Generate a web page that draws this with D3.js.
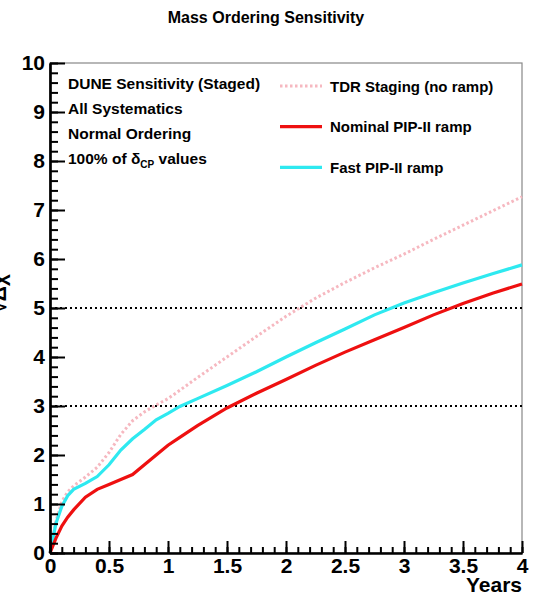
<!DOCTYPE html>
<html>
  <head>
    <meta charset="utf-8">
    <title>Mass Ordering Sensitivity</title>
    <style>
      body { margin: 0; background: #fff; }
      text { font-family: "Liberation Sans", Arial, sans-serif; font-weight: bold; }
    </style>
  </head>
  <body>
    <script src="https://cdn.jsdelivr.net/npm/d3@7"></script>
    <script type="text/javascript">
      // values
      var years   = [0, 0.05, 0.1, 0.15, 0.2, 0.3, 0.4, 0.5, 0.6, 0.7, 0.8, 0.9, 1.0, 1.1, 1.25, 1.5, 1.75, 2, 2.25, 2.5, 2.75, 3, 3.25, 3.5, 3.75, 4];
      var tdr     = [0, 0.65, 1.05, 1.25, 1.37, 1.55, 1.75, 2.05, 2.42, 2.7, 2.88, 3.02, 3.15, 3.32, 3.58, 4.0, 4.42, 4.83, 5.2, 5.52, 5.82, 6.1, 6.4, 6.69, 6.98, 7.27];
      var nominal = [0, 0.3, 0.55, 0.73, 0.88, 1.14, 1.3, 1.4, 1.5, 1.6, 1.8, 2.0, 2.2, 2.36, 2.6, 2.96, 3.26, 3.54, 3.83, 4.1, 4.35, 4.6, 4.86, 5.09, 5.3, 5.49];
      var fast    = [0, 0.6, 0.95, 1.17, 1.3, 1.42, 1.56, 1.8, 2.1, 2.33, 2.52, 2.72, 2.85, 2.99, 3.15, 3.42, 3.7, 4.0, 4.29, 4.57, 4.86, 5.1, 5.31, 5.51, 5.7, 5.88];
      var refLevels = [3, 5];
      var legendLabels = ["TDR Staging (no ramp)", "Nominal PIP-II ramp", "Fast PIP-II ramp"];
      var infoLines = ["DUNE Sensitivity (Staged)", "All Systematics", "Normal Ordering"];

      var width = 533, height = 602;
      var svg = d3.select("body").append("svg")
                  .attr("width", width)
                  .attr("height", height);

      var x = d3.scaleLinear().domain([0, 4]).range([50, 522]);
      var y = d3.scaleLinear().domain([0, 10]).range([553, 63]);

      // frame
      svg.append("rect")
         .attr("x", x(0)).attr("y", y(10))
         .attr("width", x(4) - x(0)).attr("height", y(0) - y(10))
         .attr("fill", "none").attr("stroke", "#888").attr("stroke-width", 1.2);

      // reference lines
      svg.selectAll(".ref").data(refLevels).enter().append("line")
         .attr("x1", x(0)).attr("x2", x(4))
         .attr("y1", function(d) { return y(d); })
         .attr("y2", function(d) { return y(d); })
         .attr("stroke", "#000").attr("stroke-width", 2)
         .attr("stroke-dasharray", "2,3");

      // curves
      var line = d3.line()
                   .x(function(d, i) { return x(years[i]); })
                   .y(function(d) { return y(d); });

      svg.append("path").attr("d", line(tdr))
         .attr("fill", "none").attr("stroke", "#f6b8c0").attr("stroke-width", 3)
         .attr("stroke-dasharray", "2.5,2.5");
      svg.append("path").attr("d", line(fast))
         .attr("fill", "none").attr("stroke", "#2ee9f0").attr("stroke-width", 3.2);
      svg.append("path").attr("d", line(nominal))
         .attr("fill", "none").attr("stroke", "#ee1010").attr("stroke-width", 3.2);

      // axes
      var yMinor = d3.range(0, 10.01, 0.2);
      var xMinor = d3.range(0, 4.001, 0.1);

      var gy = svg.append("g").attr("transform", "translate(" + x(0) + ",0)");
      gy.call(d3.axisLeft(y).tickValues(yMinor).tickFormat("").tickSizeInner(-8).tickSizeOuter(0));
      var gy2 = svg.append("g").attr("transform", "translate(" + x(0) + ",0)");
      gy2.call(d3.axisLeft(y).ticks(10).tickSizeInner(-15).tickSizeOuter(0).tickPadding(5));

      var gx = svg.append("g").attr("transform", "translate(0," + y(0) + ")");
      gx.call(d3.axisBottom(x).tickValues(xMinor).tickFormat("").tickSizeInner(-6).tickSizeOuter(0));
      var gx2 = svg.append("g").attr("transform", "translate(0," + y(0) + ")");
      gx2.call(d3.axisBottom(x).tickValues(d3.range(0, 4.001, 0.5))
              .tickFormat(d3.format("~g")).tickSizeInner(-12).tickSizeOuter(0).tickPadding(4));

      svg.selectAll(".domain").attr("stroke", "#000").attr("stroke-width", 2.2);
      svg.selectAll(".tick line").attr("stroke", "#000").attr("stroke-width", 2);
      svg.selectAll(".tick text").attr("font-size", 21).attr("fill", "#000")
         .style("font-family", "'Liberation Sans', Arial, sans-serif").style("font-weight", "bold");
      gx2.selectAll(".tick text").attr("dy", "0.76em");

      // titles
      svg.append("text").attr("x", 266).attr("y", 23).attr("text-anchor", "middle")
         .attr("font-size", 16).text("Mass Ordering Sensitivity");
      svg.append("text").attr("x", 522).attr("y", 592).attr("text-anchor", "end")
         .attr("font-size", 21).text("Years");
      svg.append("text").attr("transform", "translate(6,290) rotate(-90)")
         .attr("text-anchor", "middle").attr("font-size", 21).text("\u221AΔχ\u00B2");

      // info text
      infoLines.forEach(function(t, i) {
        svg.append("text").attr("x", 68).attr("y", 88.5 + i * 25.3)
           .attr("font-size", 15.5).text(t);
      });
      var last = svg.append("text").attr("x", 68).attr("y", 164).attr("font-size", 15.5);
      last.append("tspan").text("100% of δ");
      last.append("tspan").attr("font-size", 10).attr("dy", 4).text("CP");
      last.append("tspan").attr("dy", -4).text(" values");

      // legend
      var legStyles = [
        { color: "#f6b8c0", dash: "2.5,2.5" },
        { color: "#ee1010", dash: null },
        { color: "#2ee9f0", dash: null }
      ];
      legendLabels.forEach(function(t, i) {
        var ly = 86 + i * 40.7;
        svg.append("line").attr("x1", 280).attr("x2", 322).attr("y1", ly).attr("y2", ly)
           .attr("stroke", legStyles[i].color).attr("stroke-width", 3.2)
           .attr("stroke-dasharray", legStyles[i].dash);
        svg.append("text").attr("x", 330).attr("y", ly + 5.5).attr("font-size", 15).text(t);
      });
    </script>
  </body>
</html>
